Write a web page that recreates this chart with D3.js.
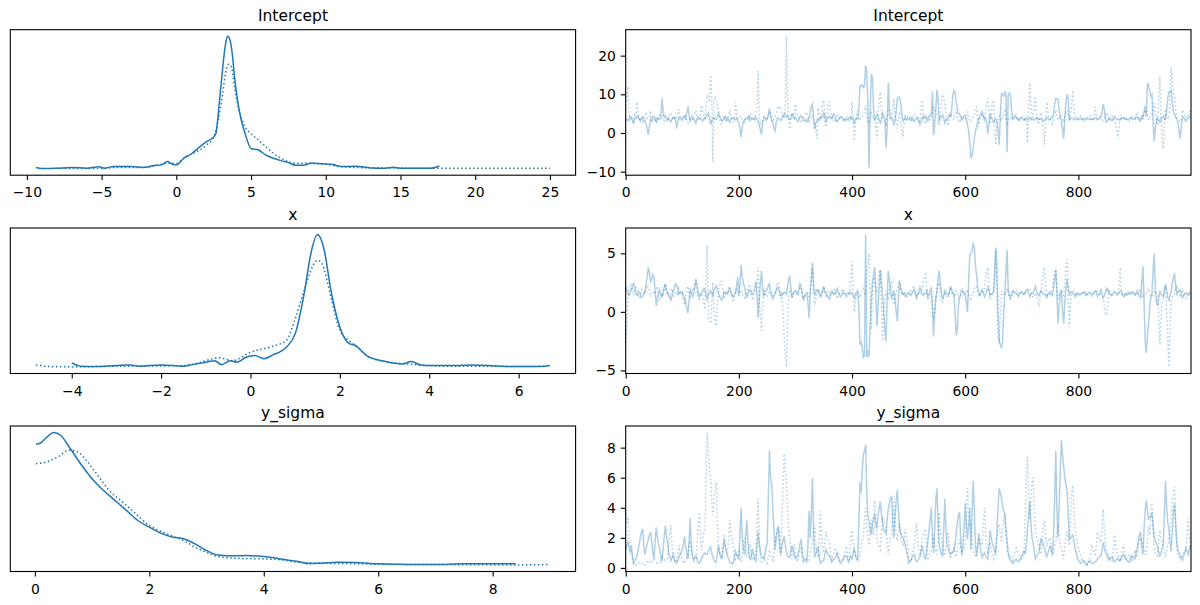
<!DOCTYPE html>
<html>
<head>
<meta charset="utf-8">
<script src="https://cdn.jsdelivr.net/npm/d3@7"></script>
<style>
  body { margin: 0; background: #fff; }
  text { font-family: "DejaVu Sans", sans-serif; }
</style>
</head>
<body>
<svg id="chart" width="1200" height="605"></svg>
<script>
// ---------- data ----------
const varNames = ['Intercept', 'x', 'y_sigma'];

// KDE curves as [value, relative density]; chain 0 solid, chain 1 dotted
const interceptKde0 = [[-9.39,0.010],[-9,0.002],[-8,0.005],[-7,0.010],[-6,0.005],[-5.2,0.015],[-4.8,0.005],[-4.2,0.017],[-3,0.017],[-2.2,0.010],[-1.5,0.025],[-1,0.030],[-0.6,0.055],[-0.3,0.037],[0,0.030],[0.5,0.080],[1,0.112],[1.5,0.159],[2,0.204],[2.5,0.241],[2.65,0.266],[2.85,0.465],[3,0.64],[3.2,0.863],[3.35,0.975],[3.45,1.0],[3.6,0.967],[3.75,0.863],[3.9,0.689],[4.1,0.515],[4.3,0.39],[4.6,0.266],[5,0.154],[5.5,0.142],[6,0.104],[6.5,0.080],[7,0.062],[7.5,0.047],[8,0.027],[8.5,0.027],[9,0.042],[10,0.037],[10.5,0.032],[11,0.017],[12,0.020],[13,0.007],[14,0.005],[14.5,0.012],[15,0.005],[16,0.005],[17,0.005],[17.6,0.022]];
const interceptKde1 = [[-8,0.004],[-7,0.003],[-5,0.003],[-4,0.010],[-3,0.010],[-2,0.012],[-1,0.035],[-0.5,0.042],[0,0.042],[0.5,0.080],[1,0.112],[1.5,0.137],[2,0.179],[2.5,0.241],[2.8,0.366],[3.1,0.565],[3.3,0.726],[3.5,0.79],[3.7,0.764],[3.9,0.614],[4.2,0.44],[4.6,0.318],[5,0.266],[5.5,0.216],[6,0.167],[6.5,0.117],[7,0.08],[7.5,0.055],[8,0.042],[9,0.042],[10,0.035],[11,0.017],[12,0.010],[14,0.007],[16,0.005],[18,0.005],[20,0.005],[22,0.005],[25,0.005]];
const xKde0 = [[-4,0.033],[-3.8,0.008],[-3.5,0.005],[-3,0.013],[-2.7,0.018],[-2.5,0.008],[-2,0.018],[-1.5,0.008],[-1.3,0.020],[-1,0.038],[-0.8,0.050],[-0.65,0.020],[-0.45,0.050],[-0.3,0.038],[-0.1,0.076],[0.1,0.088],[0.3,0.065],[0.5,0.093],[0.8,0.151],[1,0.252],[1.2,0.554],[1.35,0.856],[1.5,1.0],[1.65,0.882],[1.8,0.579],[2,0.302],[2.2,0.181],[2.35,0.164],[2.6,0.088],[3,0.045],[3.4,0.025],[3.6,0.043],[3.8,0.018],[4,0.013],[4.5,0.013],[5,0.018],[5.5,0.010],[6,0.005],[6.5,0.005],[6.7,0.013]];
const xKde1 = [[-4.8,0.018],[-4.5,0.005],[-4,0.003],[-3,0.008],[-2,0.010],[-1.5,0.013],[-1.2,0.030],[-0.7,0.071],[-0.4,0.050],[0,0.113],[0.5,0.159],[0.8,0.202],[1,0.365],[1.2,0.579],[1.4,0.768],[1.5,0.806],[1.6,0.781],[1.8,0.529],[2,0.277],[2.2,0.202],[2.4,0.151],[2.6,0.088],[3,0.043],[3.5,0.025],[4,0.013],[4.5,0.008],[5,0.008],[5.5,0.008],[6,0.005],[6.6,0.008]];
const sigmaKde0 = [[0.02,0.912],[0.1,0.922],[0.2,0.962],[0.33,1.0],[0.45,0.98],[0.6,0.892],[0.8,0.766],[1,0.653],[1.2,0.565],[1.4,0.49],[1.6,0.415],[1.8,0.339],[2,0.289],[2.2,0.244],[2.4,0.214],[2.6,0.201],[2.8,0.163],[3,0.113],[3.2,0.08],[3.5,0.073],[3.7,0.075],[4,0.068],[4.3,0.05],[4.6,0.03],[4.8,0.015],[5,0.018],[5.3,0.025],[5.6,0.023],[6,0.013],[6.5,0.008],[7,0.008],[7.5,0.013],[8,0.013],[8.4,0.013]];
const sigmaKde1 = [[0.02,0.766],[0.2,0.779],[0.4,0.817],[0.6,0.867],[0.75,0.854],[0.9,0.791],[1.1,0.678],[1.3,0.565],[1.5,0.49],[1.7,0.415],[2,0.302],[2.3,0.239],[2.6,0.188],[2.8,0.138],[3,0.1],[3.2,0.068],[3.5,0.055],[4,0.05],[4.3,0.043],[4.6,0.025],[5,0.018],[5.5,0.015],[6,0.01],[7,0.008],[8,0.005],[8.5,0.005],[9,0.008]];

// trace values, one every 2 draws (draw 0, 2, ..., 998); each line = 100 draws
const interceptTrace0 = [
  3.8,3.5,3.2,3.9,4.3, 4.1,3.3,2.6,3.7,4.0, 3.9,4.4,3.5,3.1,3.8, 4.2,3.6,3.1,2.4,1.0, -0.5,1.8,3.6,3.2,4.1, 4.4,3.7,3.0,3.9,3.4, 3.7,4.0,8.9,6.0,4.5, 4.2,3.8,3.5,3.9,3.3, 2.9,3.6,3.8,4.2,3.5, 1.2,2.8,4.0,3.6,3.9,
  3.6,4.1,4.3,3.4,5.0, 6.9,4.6,3.1,3.8,3.5, 3.9,3.2,2.5,3.6,4.2, 4.0,3.7,3.4,3.1,3.8, 3.7,4.3,4.6,5.2,3.9, 2.2,3.1,3.8,4.0,3.6, 3.5,3.9,5.1,4.4,3.7, 3.2,3.5,3.6,4.1,3.3, 4.0,3.4,2.8,3.6,3.9, 3.9,3.5,3.4,3.8,3.1,
  2.5,1.0,-1.0,1.5,3.0, 3.3,3.8,3.9,3.5,4.2, 3.2,3.6,3.6,3.9,3.4, 4.0,3.5,3.1,2.0,0.8, -0.4,2.5,3.8,4.1,3.6, 3.5,4.8,6.4,5.0,3.2, 2.7,1.2,0.5,2.9,3.7, 3.9,3.4,3.3,3.8,4.3, 5.0,4.6,4.1,4.4,3.7, 3.5,4.2,4.9,4.5,3.8,
  3.9,3.4,3.0,3.6,4.2, 4.5,3.9,3.4,3.1,3.5, 2.8,3.3,4.0,5.5,6.8, 7.4,3.8,1.0,2.6,3.4, 3.5,3.2,3.9,4.3,4.0, 5.2,4.5,3.1,3.7,4.1, 4.4,3.8,3.7,4.6,5.0, 3.9,3.3,2.9,3.5,3.8, 4.2,3.9,3.6,3.2,3.7, 3.3,3.6,3.8,4.1,3.5,
  4.1,3.7,2.6,3.4,3.9, 3.6,6.0,12.2,12.0,12.4, 11.8,12.3,17.5,16.0,8.0, -9.2,5.0,15.0,14.5,6.0, 3.2,3.9,4.8,4.2,3.5, 2.6,3.4,5.2,4.5,3.8, -3.8,1.0,13.0,6.5,4.0, 3.7,3.1,2.3,3.6,5.5, 8.9,9.3,9.2,7.8,5.0, 3.1,3.6,4.0,3.4,3.8,
  3.5,3.9,4.1,3.3,3.7, 2.9,3.4,3.6,4.0,3.2, 2.2,3.0,3.8,4.4,3.9, 4.3,3.6,3.2,3.8,4.5, 4.6,10.8,-0.5,2.0,6.0, 11.2,9.0,3.4,3.9,4.2, 4.7,3.8,2.6,3.3,3.7, 3.9,4.8,4.4,6.0,9.5, 11.0,10.5,8.2,6.5,5.0, 4.9,4.2,3.4,3.8,4.6,
  4.5,3.6,2.2,0.5,-2.5, -6.5,-5.8,-4.0,-1.5,0.5, 1.5,2.8,3.8,4.5,5.0, 5.6,4.4,3.4,3.9,2.2, -0.2,2.5,4.9,4.1,3.5, 2.8,3.4,3.6,3.0,0.5, -3.0,4.0,10.2,10.1,9.6, 10.6,10.3,-5.0,9.9,10.4, 9.8,6.0,3.6,3.9,4.4, 4.1,3.5,3.7,3.3,3.9,
  3.9,3.6,3.3,3.7,3.5, 3.6,3.8,4.0,3.4,3.6, 3.5,3.3,3.8,3.6,3.9, 3.4,3.7,3.7,3.5,3.2, 3.2,3.6,4.1,3.8,3.4, 3.6,4.0,3.9,5.0,7.5, 9.0,8.8,8.7,6.0,3.8, 3.2,1.0,-1.5,4.0,8.0, 10.0,9.0,3.4,3.7,3.9, 3.8,3.4,3.5,3.6,3.9,
  3.7,3.6,3.6,3.7,3.5, 3.8,3.6,3.5,3.6,3.7, 3.6,3.5,3.7,3.6,3.6, 3.9,3.7,3.4,3.6,3.8, 4.1,5.5,7.5,6.0,3.5, 2.8,3.4,3.9,3.6,3.3, 3.2,3.8,4.3,3.9,3.5, 3.6,3.3,3.4,3.8,3.7, 4.0,3.6,3.7,3.4,3.6, 3.5,3.9,3.8,3.5,3.7,
  3.6,4.2,4.0,3.5,3.8, 3.3,4.4,3.8,5.5,7.0, 4.2,12.8,12.5,11.0,9.5, 10.0,3.0,-2.0,1.0,3.5, 3.9,3.2,2.8,3.6,4.1, 4.4,3.7,3.5,6.0,9.0, 10.5,10.8,11.0,8.0,5.5, 4.8,4.0,3.6,2.5,0.5, -1.5,2.0,4.2,3.9,3.4, 3.1,3.6,3.8,4.3,3.9];
const interceptTrace1 = [
  6.0,9.0,12.0,5.0,3.5, 4.2,3.1,2.8,4.6,3.9, 8.0,4.5,3.6,3.0,4.1, 2.4,3.5,4.3,4.9,3.7, 3.9,4.4,5.8,3.2,2.9, 3.1,3.8,2.5,3.6,4.4, 4.6,3.9,3.7,4.5,3.2, 4.1,3.4,2.9,4.0,4.7, 5.2,4.1,3.4,3.8,3.5, 4.0,4.8,6.1,4.2,3.6,
  3.3,3.9,4.8,4.1,3.0, 2.6,3.4,3.9,4.4,3.7, 4.5,5.0,5.8,4.2,3.5, 3.2,4.6,7.2,5.1,4.0, 3.8,6.5,9.8,9.0,8.5, 15.0,9.5,-7.5,8.0,9.6, 9.2,7.0,5.4,3.8,2.6, 2.2,3.5,4.6,3.9,3.3, 3.5,4.4,6.0,4.1,3.2, 2.9,4.0,8.0,5.2,3.8,
  3.7,4.2,4.4,3.5,3.0, 2.7,3.6,3.9,4.3,3.8, 5.1,4.0,3.3,3.7,4.2, 4.8,6.5,16.0,4.0,2.5, 2.0,3.4,4.2,3.9,3.1, 3.6,4.5,5.5,4.0,3.4, 2.9,3.7,4.1,5.0,6.2, 7.0,6.0,6.3,4.8,4.0, 3.8,6.0,25.0,8.0,3.0, 1.0,3.5,5.2,4.4,3.9,
  7.5,5.2,4.3,3.8,3.1, 2.6,3.4,3.9,4.5,5.0, 5.4,4.1,3.0,3.6,4.2, 4.7,3.5,2.2,0.5,-1.5, 6.5,4.8,3.4,5.5,7.5, 8.5,3.0,1.5,5.0,8.0, 8.0,5.5,4.4,3.6,2.8, 2.8,3.9,5.0,4.2,3.7, 3.6,4.0,4.2,3.5,3.9, 3.9,4.3,3.4,3.8,4.1,
  8.0,3.0,-2.0,2.5,4.5, 5.8,4.2,3.2,3.9,4.4, 4.6,5.5,7.2,4.8,3.1, 2.5,3.8,5.1,4.3,3.6, 3.7,2.0,-1.5,5.0,8.5, 10.5,6.0,4.0,3.4,2.9, 2.3,4.5,6.2,4.0,3.7, 3.5,6.0,8.8,5.2,2.8, 1.2,3.9,5.5,2.0,1.5, -1.0,2.5,4.4,3.8,4.2,
  3.8,3.4,2.9,3.7,4.4, 5.0,4.5,4.1,3.6,3.0, 3.3,6.0,8.5,4.5,2.8, 2.4,3.7,4.6,4.0,3.4, 3.6,5.2,7.0,6.0,5.5, 5.3,3.5,2.1,5.0,8.0, 10.0,8.8,8.0,4.5,2.5, 1.8,3.6,4.9,4.2,3.8, 3.5,4.6,6.2,4.0,3.1, 2.7,3.8,4.5,3.9,3.6,
  3.4,4.5,5.6,3.9,3.2, 2.8,3.6,4.2,4.8,5.5, 6.8,4.0,1.6,3.3,4.4, 5.0,4.1,3.7,5.5,7.5, 9.0,5.0,2.3,5.5,8.0, 8.5,2.0,-3.0,1.5,3.8, 4.4,3.8,3.1,4.2,5.0, 5.7,4.0,2.6,3.5,3.9, 4.0,3.4,3.6,4.1,4.5, 4.8,4.0,3.2,3.6,3.9,
  4.1,3.7,3.5,3.9,4.3, -2.5,5.0,13.0,7.5,4.0, 4.6,7.0,9.5,5.0,3.0, 2.2,3.8,5.3,4.0,1.0, -3.0,2.5,8.0,5.5,4.2, 3.9,3.1,2.4,3.6,4.5, 6.0,4.2,3.4,3.9,4.3, 4.7,3.6,2.8,4.0,5.0, 5.9,4.3,3.6,4.8,7.5, 11.0,6.5,4.2,3.8,3.5,
  3.5,3.9,4.3,3.7,3.2, 2.9,3.5,3.8,4.1,4.4, 4.5,3.8,3.1,3.6,4.9, 6.8,4.5,3.6,3.9,4.2, 4.0,3.3,2.7,3.5,4.6, 5.2,4.4,3.9,3.6,4.1, 4.4,3.7,3.3,2.0,0.5, -1.5,2.0,4.8,4.0,3.6, 3.5,3.9,4.1,3.4,3.2, 3.0,3.8,4.6,4.0,3.7,
  3.7,4.6,5.4,4.1,3.3, 2.9,3.6,4.2,5.0,5.6, 6.0,4.5,3.3,4.0,4.7, 4.9,6.5,7.8,5.0,3.0, 2.5,9.0,14.5,5.0,-1.0, -4.0,2.0,6.2,4.5,3.9, 3.6,9.0,17.0,12.0,10.5, 9.5,6.0,4.3,3.5,3.1, 2.8,4.2,6.0,5.0,4.3, 3.9,4.6,4.5,5.2,6.0];
const xTrace0 = [
  2.2,1.8,1.6,1.4,1.7, 1.9,2.2,2.5,2.0,1.6, 1.4,1.6,1.7,1.5,1.2, 1.3,1.5,1.8,2.4,3.0, 3.8,3.4,2.6,2.8,3.2, 3.0,1.8,0.5,1.2,1.6, 1.9,1.5,1.2,1.7,2.1, 2.4,1.9,1.6,1.4,1.2, 1.0,1.5,1.8,2.0,2.4, 2.3,1.9,1.5,1.7,1.6,
  1.7,1.4,1.2,0.8,0.3, -0.1,1.0,2.0,1.6,1.3, 1.5,2.1,2.8,2.3,1.7, 1.3,1.5,1.6,1.8,2.0, 1.9,1.4,1.1,1.5,1.7, 1.8,1.6,1.4,1.9,2.0, 2.2,1.9,1.6,1.3,1.1, 1.0,1.4,1.7,1.6,1.5, 1.5,1.8,2.0,1.7,1.4, 1.3,1.5,1.6,2.2,3.0,
  1.4,2.5,4.0,3.0,2.4, 2.1,1.7,1.2,1.5,1.9, 1.8,1.6,1.5,1.7,2.1, 2.6,1.5,-0.5,1.0,2.5, 3.5,2.0,1.3,1.6,1.8, 1.9,2.2,2.4,1.8,1.4, 1.1,1.3,1.6,1.8,2.1, 2.0,1.7,1.4,1.6,1.5, 1.7,1.6,1.5,2.2,2.8, 3.0,2.0,1.2,1.5,1.7,
  1.8,1.6,1.5,1.9,2.4, 2.2,1.6,1.0,1.3,1.5, 1.6,0.8,-0.5,1.5,3.0, 4.2,2.5,1.4,1.7,1.9, 1.9,1.5,1.3,1.6,1.8, 2.1,1.8,1.6,1.4,1.2, 1.1,1.5,1.8,1.7,1.5, 1.5,1.8,2.0,1.6,1.4, 1.3,1.5,1.7,1.6,1.5, 1.4,1.6,1.6,1.5,1.7,
  1.5,1.4,1.2,1.5,1.7, 1.8,0.5,-2.8,-2.6,-3.0, -3.9,-3.8,6.6,-3.9,-3.5, -3.8,-1.0,1.0,2.5,3.2, 3.8,1.5,-1.2,0.5,2.0, 3.6,2.4,1.4,0.0,-1.5, -2.5,1.0,3.5,2.8,1.6, 1.2,1.5,1.8,1.0,0.0, -0.8,1.2,2.6,2.0,1.7, 1.5,1.6,1.3,1.4,1.6,
  1.7,1.5,1.4,1.6,1.8, 1.9,1.6,1.2,1.5,1.7, 2.1,1.8,1.5,1.4,1.6, 1.6,1.9,1.3,1.5,1.8, 2.0,0.5,-2.1,0.0,1.2, 1.7,2.8,3.5,2.5,1.6, 1.1,1.4,1.8,1.6,1.5, 1.4,1.7,2.2,1.9,1.6, 1.6,0.0,-2.0,-1.5,0.5, 1.2,1.6,1.9,1.7,1.5,
  1.5,0.8,0.0,2.5,4.8, 5.0,5.2,5.8,5.6,4.0, 3.2,2.2,1.6,1.4,1.7, 1.9,1.6,1.3,1.5,1.8, 2.1,1.8,1.4,1.5,1.6, 1.7,3.0,5.5,4.0,0.0, -2.5,-2.8,-3.1,-2.6,0.0, 1.5,3.5,5.3,2.0,1.4, 1.2,1.5,1.8,1.7,1.6, 1.6,1.5,1.4,1.6,1.7,
  1.7,1.6,1.5,1.7,1.8, 1.9,1.6,1.3,1.5,1.6, 1.6,1.9,2.2,1.8,1.5, 1.4,1.6,1.8,1.7,1.5, 1.5,1.4,1.2,1.5,1.6, 1.7,1.5,1.4,2.0,2.8, 3.6,1.5,-1.0,0.5,1.6, 1.9,0.0,-1.0,0.8,2.0, 2.8,2.0,1.5,1.7,1.6, 1.6,1.5,1.3,1.5,1.6,
  1.6,1.5,1.5,1.6,1.6, 1.7,1.6,1.4,1.5,1.6, 1.6,1.5,1.5,1.6,1.7, 1.8,1.6,1.3,1.5,1.6, 1.9,1.5,1.2,1.4,1.7, 2.0,1.8,1.6,1.5,1.4, 1.4,1.6,1.7,1.6,1.5, 1.5,1.6,1.8,1.7,1.5, 1.3,1.4,1.6,1.5,1.6, 1.5,1.6,1.7,1.6,1.5,
  1.4,1.6,1.8,1.5,1.3, 1.2,2.5,3.9,1.0,-2.5, -3.5,-2.0,-1.0,0.5,1.2, 1.6,3.5,5.0,2.0,0.8, 0.5,1.2,1.8,1.5,1.4, 1.3,1.9,2.4,1.8,1.2, 1.0,1.4,1.7,2.5,3.0, 3.2,2.2,1.5,1.7,1.8, 1.9,1.5,1.2,1.4,1.6, 1.6,1.5,1.4,1.6,1.7];
const xTrace1 = [
  -3.0,-1.0,1.0,2.0,2.4, 2.3,1.8,1.4,1.7,2.1, 2.0,1.5,1.2,1.4,1.9, 1.8,1.6,1.5,1.9,2.3, 2.1,1.7,1.3,1.5,1.8, 1.7,1.5,1.9,2.2,1.4, 1.1,1.5,1.6,1.3,1.9, 2.4,1.8,1.4,1.6,1.3, 1.8,2.0,1.2,1.5,1.7, 1.6,1.4,2.0,1.8,1.5,
  1.5,1.1,0.6,1.4,2.0, 2.2,1.7,1.3,1.6,1.9, 1.8,2.3,2.7,1.8,1.3, 1.1,1.4,1.6,1.2,0.8, 0.2,3.0,5.7,-0.5,-0.8, -1.0,0.5,2.5,0.0,-1.0, -1.2,0.5,1.8,2.3,2.6, 2.6,1.9,1.3,1.5,1.8, 1.7,2.0,2.2,1.6,1.2, 1.0,1.3,1.6,2.0,1.7,
  1.4,1.6,1.9,1.5,1.3, 1.2,1.5,1.7,2.0,2.3, 2.3,1.6,1.0,1.3,1.5, 1.5,2.5,3.8,1.0,-0.5, -1.6,0.5,2.0,1.7,1.3, 1.3,1.6,1.8,1.5,1.4, 1.4,1.5,1.6,2.0,2.5, 2.5,1.8,1.1,1.5,0.0, -2.0,-3.5,-4.7,-1.0,1.0, 1.9,1.5,1.2,1.6,1.8,
  1.8,1.6,1.4,1.8,2.1, 2.1,1.5,1.0,1.3,1.6, 1.6,1.4,1.3,1.8,2.4, 3.8,2.0,0.5,1.2,1.7, 1.9,1.7,1.5,1.4,1.8, 2.2,1.6,1.2,1.5,1.7, 1.7,1.5,1.4,1.6,1.9, 1.8,1.4,1.1,1.5,1.6, 1.6,1.8,2.0,1.7,1.4, 1.3,1.5,1.5,1.9,3.0,
  4.3,2.0,0.0,1.0,1.5, 1.7,1.4,1.2,1.6,1.9, 2.0,1.6,1.4,3.0,4.2, 5.0,1.0,-1.5,1.5,2.5, 3.0,2.2,1.6,2.5,3.2, 3.6,0.5,-2.5,0.0,1.2, 1.8,1.4,1.2,1.9,2.3, 2.5,1.5,0.6,1.2,1.7, 1.9,2.4,2.7,2.0,1.6, 1.4,1.7,1.6,1.5,1.3,
  1.3,1.6,1.8,2.0,2.2, 2.2,1.6,1.1,1.4,1.7, 1.6,1.8,1.9,2.6,3.0, 3.2,1.8,1.0,1.3,1.5, 1.5,0.4,-0.4,-0.2,0.8, 2.0,2.3,2.5,1.5,0.8, 0.8,1.3,1.7,1.5,1.3, 1.3,1.7,2.1,1.8,1.5, 1.4,1.6,1.8,1.5,1.2, 1.2,1.4,1.6,1.8,1.7,
  1.5,1.7,1.9,1.5,1.2, 1.1,1.4,1.6,1.9,2.2, 2.2,1.7,1.3,1.5,1.6, 1.7,1.9,2.0,2.8,3.5, 3.8,2.2,1.2,1.4,1.5, 1.6,3.5,5.3,1.0,-2.0, -2.7,-0.5,1.8,1.6,1.5, 1.4,1.7,2.0,1.5,1.2, 1.1,1.4,1.6,1.8,1.9, 1.9,1.6,1.3,1.5,1.6,
  1.7,1.5,1.4,1.6,1.8, 1.9,2.0,2.0,1.7,1.4, 1.2,1.4,1.6,1.5,1.0, 0.4,1.2,1.8,2.6,3.4, 3.8,2.5,1.3,1.5,1.4, 1.5,1.8,2.0,2.8,3.5, 3.8,2.2,1.1,1.4,1.6, 1.7,1.5,1.4,2.5,3.8, 4.5,1.5,-1.3,0.5,1.5, 1.9,1.7,1.5,1.6,1.4,
  1.6,1.5,1.4,1.6,1.7, 1.8,1.6,1.5,1.6,1.7, 1.7,1.5,1.3,1.5,1.6, 1.6,1.8,1.9,1.6,1.5, 1.4,1.3,1.2,0.5,-0.2, -0.3,0.8,1.8,1.6,1.5, 1.5,1.6,1.7,1.5,1.4, 1.4,2.5,3.8,2.0,1.5, 1.6,1.5,1.3,1.5,1.7, 1.8,1.6,1.5,1.6,1.7,
  1.7,1.5,1.4,1.6,1.8, 1.9,1.5,1.2,1.4,1.6, 1.6,1.8,2.0,1.6,1.3, 1.3,1.5,1.8,1.7,1.6, 1.5,-0.5,-2.7,-0.5,0.8, 1.1,1.8,2.2,0.0,-2.5, -4.7,-1.0,1.0,1.3,1.5, 1.6,2.0,2.3,1.8,1.5, 1.4,1.7,1.9,1.5,1.3, 1.2,1.5,1.7,1.6,1.4];
const sigmaTrace0 = [
  1.2,1.5,1.8,1.3,1.0, 1.5,0.8,0.3,0.5,0.6, 0.8,1.2,1.6,2.1,2.4, 2.6,1.5,0.9,1.3,1.6, 1.9,2.2,2.4,1.8,1.0, 0.6,1.8,2.7,2.0,1.6, 1.3,0.8,0.4,1.2,2.0, 2.8,2.2,1.7,1.0,0.7, 0.5,0.7,0.9,0.6,0.4, 0.3,0.5,0.7,0.9,1.0,
  1.2,1.6,2.1,1.4,0.9, 0.6,1.8,3.3,1.5,0.8, 0.5,0.7,0.8,0.6,0.4, 0.3,0.4,0.6,0.8,0.9, 1.0,0.9,0.9,1.1,1.3, 1.4,1.0,0.7,0.5,0.4, 0.4,0.9,1.5,1.0,0.7, 0.6,1.2,1.9,1.4,1.0, 0.8,0.6,0.4,0.3,0.3, 0.3,0.7,1.1,0.9,0.7,
  0.6,2.5,4.0,2.0,1.2, 0.9,2.0,3.2,1.8,0.9, 0.5,0.8,1.3,0.9,0.6, 0.4,1.4,2.4,1.6,1.1, 0.8,0.7,0.6,0.9,1.3, 1.7,4.5,7.8,6.0,5.6, 4.0,2.5,1.2,2.0,2.6, 2.8,1.5,0.9,1.4,1.8, 2.1,1.6,1.0,0.8,0.7, 0.7,1.1,1.5,1.2,0.9,
  0.6,0.7,0.8,1.2,1.6, 1.9,1.1,0.5,0.6,0.5, 0.4,1.5,3.8,2.0,3.5, 6.0,2.5,0.7,1.0,1.2, 1.4,0.8,0.3,0.4,0.5, 0.5,0.9,1.2,1.0,0.9, 0.8,0.6,0.4,0.5,0.6, 0.6,0.8,1.0,0.7,0.4, 0.3,0.4,0.5,0.7,0.8, 0.8,0.6,0.4,0.6,0.8,
  0.6,1.0,1.3,0.9,0.6, 0.5,3.0,5.7,5.0,6.5, 7.5,7.8,8.2,5.0,3.5, 3.1,2.5,2.2,3.0,3.3, 3.5,3.0,2.6,3.5,4.0, 4.4,3.6,3.0,2.5,2.4, 2.3,3.2,3.9,4.3,4.6, 4.8,3.0,2.0,3.5,4.5, 5.2,3.8,2.6,2.3,2.1, 2.0,1.8,1.5,1.2,0.8,
  0.3,0.4,0.5,0.7,0.8, 0.9,0.6,0.4,0.5,0.6, 0.7,1.1,1.5,1.0,0.7, 0.6,1.2,1.8,2.5,3.2, 4.0,2.0,1.0,2.5,4.5, 5.3,3.0,1.6,1.2,0.9, 0.8,2.5,4.6,2.5,1.6, 1.3,1.0,0.9,1.0,1.1, 1.1,1.6,2.2,3.0,3.5, 3.7,2.0,0.8,1.5,2.8,
  4.3,3.0,1.9,2.8,4.0, 1.2,3.5,5.8,4.0,1.5, 0.8,1.5,2.3,1.6,1.0, 0.7,0.9,1.0,0.8,0.7, 0.6,1.5,2.5,2.0,1.6, 1.4,1.1,0.9,2.5,4.0, 5.3,5.0,4.7,4.0,3.8, 3.6,2.5,1.8,1.0,0.6, 0.5,0.4,0.3,0.4,0.5, 0.6,0.5,0.4,0.5,0.7,
  0.8,1.0,1.1,0.9,1.5, 2.6,3.5,4.4,3.0,2.0, 1.7,1.1,0.6,0.8,0.9, 1.0,1.5,2.0,1.7,1.5, 1.3,1.0,0.7,1.0,1.2, 1.5,1.2,0.9,2.0,4.5, 7.8,4.0,2.0,4.0,6.5, 8.5,7.5,6.7,6.0,5.5, 5.2,3.5,1.9,2.0,2.1, 2.2,1.8,1.4,1.0,0.7,
  0.5,0.4,0.3,0.4,0.5, 0.4,0.3,0.2,0.3,0.4, 0.5,0.4,0.3,0.3,0.4, 0.4,0.5,0.6,0.7,0.8, 0.8,1.2,1.7,1.3,1.0, 0.9,0.7,0.5,0.6,0.7, 0.7,0.5,0.4,0.5,0.6, 0.6,0.5,0.5,0.7,0.8, 0.9,0.7,0.6,0.5,0.4, 0.4,0.6,0.8,0.7,0.6,
  0.6,1.0,1.3,1.8,2.2, 2.4,1.5,0.9,2.5,3.8, 4.5,3.8,3.2,3.4,3.5, 3.6,2.8,2.1,1.8,1.6, 1.4,1.0,0.8,1.0,1.3, 1.6,3.5,5.8,4.0,3.0, 2.6,1.8,1.1,2.5,3.8, 4.3,2.8,1.7,1.2,1.0, 0.8,0.6,0.5,0.8,1.0, 1.3,1.1,0.9,1.2,1.5];
const sigmaTrace1 = [
  3.9,3.0,3.5,2.0,1.5, 1.1,0.6,0.3,0.2,0.2, 0.2,0.3,0.4,0.3,0.3, 0.3,0.2,0.2,0.3,0.4, 0.5,0.4,0.3,0.4,0.5, 0.6,0.5,0.4,0.3,0.3, 0.3,0.5,0.8,0.7,0.6, 0.5,0.6,0.6,1.5,2.3, 2.8,1.5,0.7,0.5,0.4, 0.4,0.9,1.5,1.0,0.7,
  0.5,0.4,0.3,0.5,0.7, 0.9,1.4,1.8,1.2,0.8, 0.6,0.5,0.4,1.5,2.8, 3.7,2.2,1.2,1.8,2.3, 2.6,6.0,9.0,7.5,6.5, 6.0,4.5,3.5,4.5,5.2, 5.7,3.0,1.3,1.0,0.9, 0.8,1.5,2.2,1.6,1.2, 1.0,2.0,3.2,2.4,1.8, 1.5,1.0,0.6,0.8,1.0,
  1.1,0.7,0.4,1.2,1.8, 2.0,1.3,0.7,1.1,1.4, 1.6,1.0,0.5,0.6,0.8, 0.9,2.8,4.6,2.0,0.8, 0.4,0.5,0.7,0.5,0.4, 0.3,0.7,1.2,0.9,0.6, 0.5,1.1,1.8,2.2,2.4, 2.6,1.5,0.8,3.0,5.5, 7.6,6.5,5.8,4.0,2.5, 1.9,1.2,0.6,1.2,1.6,
  0.9,0.6,0.4,0.8,1.1, 1.3,0.8,0.3,0.4,0.5, 0.6,0.5,0.5,1.0,1.4, 1.8,2.4,2.9,1.6,0.9, 0.7,2.0,3.8,2.2,1.4, 1.0,1.7,2.4,2.0,1.8, 1.6,1.0,0.5,0.8,1.0, 1.2,1.0,0.9,0.7,0.5, 0.4,0.5,0.6,0.9,1.1, 1.3,0.9,0.5,1.2,2.0,
  2.5,1.8,1.0,0.8,0.7, 0.6,0.7,0.8,1.4,1.8, 2.1,3.2,4.0,2.8,1.9, 1.5,2.4,3.2,2.7,2.2, 4.5,3.0,2.0,1.6,1.3, 1.2,2.4,3.4,3.0,2.9, 2.8,1.8,0.9,1.5,2.0, 2.3,3.5,4.5,3.0,2.2, 1.8,2.4,3.0,2.2,1.6, 1.4,2.0,2.6,2.0,1.5,
  0.7,0.5,0.4,0.8,1.2, 1.5,2.3,3.0,1.8,1.1, 0.8,1.3,1.9,2.3,2.5, 2.6,1.4,0.5,0.8,1.0, 1.2,1.7,2.2,1.5,1.1, 0.9,2.3,3.7,2.5,1.9, 1.6,1.1,0.8,1.6,2.1, 2.4,1.4,0.6,0.9,1.1, 1.3,1.0,0.7,1.2,1.6, 1.9,1.4,1.0,1.2,1.3,
  1.4,3.5,5.3,4.0,3.2, 2.8,1.8,1.1,0.9,0.8, 0.7,1.3,2.0,1.8,1.6, 1.5,2.8,4.0,2.2,1.2, 0.9,1.3,1.7,1.2,0.8, 0.6,0.9,1.2,2.0,2.6, 2.9,2.3,1.8,2.6,3.2, 3.6,2.2,1.1,0.9,0.8, 0.8,0.6,0.5,0.8,1.1, 1.3,1.1,0.9,0.8,0.7,
  0.6,0.8,1.0,3.5,6.0, 7.4,5.0,3.2,4.8,5.6, 6.0,4.0,2.5,2.0,1.8, 1.6,1.2,0.9,2.0,2.8, 3.1,2.2,1.4,1.7,1.9, 2.0,1.3,0.8,1.2,1.5, 1.7,2.4,2.9,2.0,1.5, 1.2,0.9,0.6,1.5,2.0, 2.4,1.9,1.5,3.5,5.0, 5.5,4.0,2.7,2.0,1.6,
  1.3,1.0,0.8,0.6,0.5, 0.5,0.4,0.3,0.2,0.3, 0.6,1.0,1.4,1.2,1.0, 0.9,1.7,2.4,2.0,1.8, 1.7,2.8,3.9,2.5,1.5, 1.1,0.9,0.7,0.6,0.5, 0.5,1.4,2.2,1.5,1.0, 0.8,0.6,0.4,0.8,1.2, 1.6,1.0,0.6,0.7,0.8, 0.9,0.7,0.5,0.6,0.8,
  1.2,0.9,0.7,1.3,1.8, 2.0,1.8,1.6,1.2,0.9, 0.9,1.8,2.8,2.2,3.5, 4.3,2.5,1.3,1.0,0.9, 0.8,1.6,2.5,2.0,1.7, 1.4,1.0,0.7,1.2,1.5, 1.9,2.5,3.1,4.5,5.0, 5.4,3.0,1.2,0.9,0.7, 0.6,0.7,0.9,1.0,1.1, 1.1,2.2,3.3,2.0,1.4];
const drawStep = 2;

// tick labels
const interceptKdeTicks = [-10, -5, 0, 5, 10, 15, 20, 25];
const xKdeTicks = [-4, -2, 0, 2, 4, 6];
const sigmaKdeTicks = [0, 2, 4, 6, 8];
const drawTicks = [0, 200, 400, 600, 800];
const interceptTraceTicks = [-10, 0, 10, 20];
const xTraceTicks = [-5, 0, 5];
const sigmaTraceTicks = [0, 2, 4, 6, 8];

const params = [
  { name: varNames[0], kde: [interceptKde0, interceptKde1], trace: [interceptTrace0, interceptTrace1], kdeTicks: interceptKdeTicks, traceTicks: interceptTraceTicks },
  { name: varNames[1], kde: [xKde0, xKde1], trace: [xTrace0, xTrace1], kdeTicks: xKdeTicks, traceTicks: xTraceTicks },
  { name: varNames[2], kde: [sigmaKde0, sigmaKde1], trace: [sigmaTrace0, sigmaTrace1], kdeTicks: sigmaKdeTicks, traceTicks: sigmaTraceTicks }
];

// ---------- layout ----------
const C0 = '#1f77b4';
const rowTop = [29.7, 228, 426];
const rowH = 145.5;
const leftX = 10.3, rightX = 625.7, panelW = 565.3;
const tickLen = 4.9;

const svg = d3.select('#chart');

// matplotlib style 5% margins
function padded(ext) {
  const m = (ext[1] - ext[0]) * 0.05;
  return [ext[0] - m, ext[1] + m];
}

function styleAxis(g) {
  g.select('.domain').remove();
  g.selectAll('.tick line').attr('stroke', '#000').attr('stroke-width', 1.1);
  g.selectAll('.tick text').attr('fill', '#000').style('font-size', '13.9px')
    .style('font-family', '"DejaVu Sans", sans-serif');
}

function frame(g) {
  g.append('rect')
    .attr('width', panelW).attr('height', rowH)
    .attr('fill', 'none').attr('stroke', '#000').attr('stroke-width', 1.1);
}

function title(g, txt) {
  g.append('text')
    .attr('x', panelW / 2).attr('y', -8.3)
    .attr('text-anchor', 'middle')
    .style('font-size', '15.5px')
    .text(txt);
}

params.forEach((p, row) => {
  const top = rowTop[row];

  // --- KDE panel (left) ---
  const gk = svg.append('g').attr('transform', `translate(${leftX},${top})`);
  const allK = p.kde.flat();
  const xk = d3.scaleLinear().domain(padded(d3.extent(allK, d => d[0]))).range([0, panelW]);
  const yk = d3.scaleLinear().domain(padded(d3.extent(allK, d => d[1]))).range([rowH, 0]);
  const kdeLine = d3.line()
    .x(d => xk(d[0]))
    .y(d => yk(d[1]))
    .curve(d3.curveMonotoneX);

  p.kde.forEach((c, i) => {
    gk.append('path')
      .attr('d', kdeLine(c))
      .attr('fill', 'none')
      .attr('stroke', C0)
      .attr('stroke-width', 1.5)
      .attr('stroke-dasharray', i ? '1.5,2.5' : null);
  });

  gk.append('g')
    .attr('transform', `translate(0,${rowH})`)
    .call(d3.axisBottom(xk).tickValues(p.kdeTicks).tickSize(tickLen).tickPadding(7.4).tickFormat(d3.format('d')))
    .call(styleAxis);
  frame(gk);
  title(gk, p.name);

  // --- trace panel (right) ---
  const gt = svg.append('g').attr('transform', `translate(${rightX},${top})`);
  const allT = p.trace.flat();
  const xt = d3.scaleLinear().domain([0, 999]).range([0, panelW]);
  const yt = d3.scaleLinear().domain(padded(d3.extent(allT))).range([rowH, 0]);
  const traceLine = d3.line()
    .x((d, i) => xt(i * drawStep))
    .y(d => yt(d));

  p.trace.forEach((c, i) => {
    gt.append('path')
      .attr('d', traceLine(c))
      .attr('fill', 'none')
      .attr('stroke', C0)
      .attr('stroke-opacity', 0.35)
      .attr('stroke-width', 1.5)
      .attr('stroke-dasharray', i ? '1.5,2.5' : null);
  });

  gt.append('g')
    .attr('transform', `translate(0,${rowH})`)
    .call(d3.axisBottom(xt).tickValues(drawTicks).tickSize(tickLen).tickPadding(7.4).tickFormat(d3.format('d')))
    .call(styleAxis);
  gt.append('g')
    .call(d3.axisLeft(yt).tickValues(p.traceTicks).tickSize(tickLen).tickPadding(4.9).tickFormat(d3.format('d')))
    .call(styleAxis);
  frame(gt);
  title(gt, p.name);
});
</script>
</body>
</html>
